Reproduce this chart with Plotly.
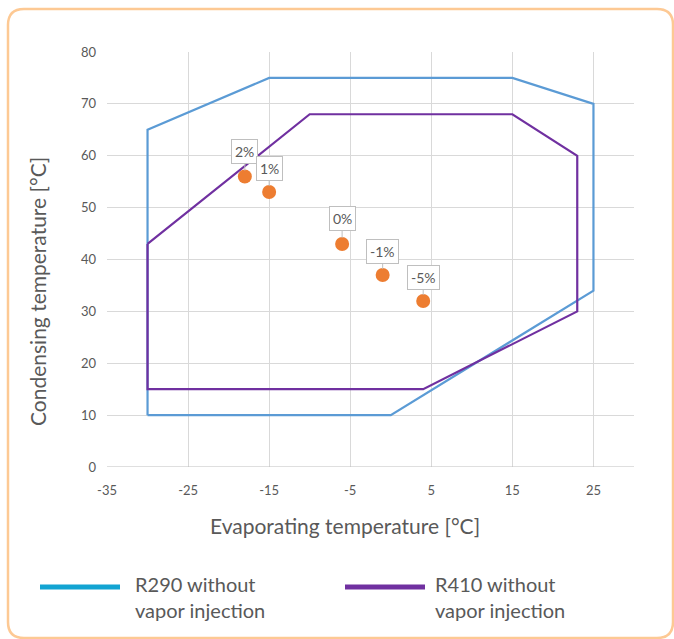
import plotly.graph_objects as go

# ---- data ----
r290_x = [-30, -30, -15, 15, 25, 25, 0, -30]
r290_y = [10, 65, 75, 75, 70, 34, 10, 10]
r410_x = [-30, -10, 15, 23, 23, 4, -30, -30]
r410_y = [43, 68, 68, 60, 30, 15, 15, 43]
pt_x = [-18, -15, -6, -1, 4]
pt_y = [56, 53, 43, 37, 32]
pt_labels = ["2%", "1%", "0%", "-1%", "-5%"]
x_ticks = [-35, -25, -15, -5, 5, 15, 25]
y_ticks = [0, 10, 20, 30, 40, 50, 60, 70, 80]
legend_names = ["R290 without<br>vapor injection", "R410 without<br>vapor injection"]
x_title = "Evaporating temperature [°C]"
y_title = "Condensing temperature [°C]"

W, H = 674, 639
L, R, T, B = 107, 40, 52, 172
PW, PH = W - L - R, H - T - B

def px(x):
    return (x - L) / PW

def py(y):
    return (H - B - y) / PH

GRAY = "#595959"
FONT = "Lato, Roboto, sans-serif"

fig = go.Figure()
fig.add_trace(go.Scatter(x=r290_x, y=r290_y, mode="lines",
                         line=dict(color="#5B9BD5", width=2.2), showlegend=False, hoverinfo="skip"))
fig.add_trace(go.Scatter(x=r410_x, y=r410_y, mode="lines",
                         line=dict(color="#7030A0", width=2.2), showlegend=False, hoverinfo="skip"))
fig.add_trace(go.Scatter(x=pt_x, y=pt_y, mode="markers",
                         marker=dict(color="#ED7D31", size=14), showlegend=False))

offsets = [(0, -25), (0, -24), (0, -25), (0, -24), (0, -24)]
for x, y, t, (ax, ay) in zip(pt_x, pt_y, pt_labels, offsets):
    fig.add_annotation(x=x, y=y, text=t, showarrow=True, ax=ax, ay=ay,
                       arrowhead=0, arrowwidth=1, arrowcolor="#BFBFBF", standoff=6,
                       bgcolor="white", bordercolor="#BFBFBF", borderwidth=1, borderpad=3,
                       font=dict(family=FONT, size=14, color=GRAY))

# rounded border
x0, y0, x1, y1, r = 8, 9, 673, 638, 16
path = (f"M {px(x0+r)},{py(y0)} L {px(x1-r)},{py(y0)} "
        f"Q {px(x1)},{py(y0)} {px(x1)},{py(y0+r)} L {px(x1)},{py(y1-r)} "
        f"Q {px(x1)},{py(y1)} {px(x1-r)},{py(y1)} L {px(x0+r)},{py(y1)} "
        f"Q {px(x0)},{py(y1)} {px(x0)},{py(y1-r)} L {px(x0)},{py(y0+r)} "
        f"Q {px(x0)},{py(y0)} {px(x0+r)},{py(y0)} Z")
fig.add_shape(type="path", xref="paper", yref="paper", path=path,
              line=dict(color="#FDC994", width=2.5), layer="below")

# manual legend
leg = [(40, 120, 133, "#12A4D2", legend_names[0]), (345, 425, 433, "#7030A0", legend_names[1])]
for lx0, lx1, tx, col, name in leg:
    fig.add_shape(type="line", xref="paper", yref="paper",
                  x0=px(lx0), x1=px(lx1), y0=py(587), y1=py(587),
                  line=dict(color=col, width=5))
    fig.add_annotation(xref="paper", yref="paper", x=px(tx), y=py(570), text=name,
                       showarrow=False, xanchor="left", yanchor="top", align="left",
                       font=dict(family=FONT, size=20, color=GRAY))

# axis titles
fig.add_annotation(xref="paper", yref="paper", x=px(345), y=py(525), text=x_title,
                   showarrow=False, xanchor="center", yanchor="middle",
                   font=dict(family=FONT, size=21, color=GRAY))
fig.add_annotation(xref="paper", yref="paper", x=px(37), y=py(292), text=y_title,
                   showarrow=False, xanchor="center", yanchor="middle", textangle=-90,
                   font=dict(family=FONT, size=21, color=GRAY))

fig.update_layout(
    width=W, height=H, margin=dict(l=L, r=R, t=T, b=B),
    paper_bgcolor="white", plot_bgcolor="white",
    font=dict(family=FONT, color=GRAY),
    xaxis=dict(range=[-35, 30], tickvals=x_ticks, ticktext=[str(v) for v in x_ticks],
               showgrid=True, gridcolor="#D9D9D9", gridwidth=1, zeroline=False,
               showline=False, tickfont=dict(size=13, color=GRAY), ticklabelstandoff=14),
    yaxis=dict(range=[0, 80], tickvals=y_ticks, showgrid=True, gridcolor="#D9D9D9", gridwidth=1,
               zeroline=False, showline=False, tickfont=dict(size=13, color=GRAY), ticklabelstandoff=10),
)
fig.add_shape(type="line", xref="paper", yref="y", x0=0, x1=1, y0=0, y1=0,
              line=dict(color="#BFBFBF", width=1.2))

fig.write_html("out.html", config={"displayModeBar": False},
               post_script="document.body.style.margin='0';")
